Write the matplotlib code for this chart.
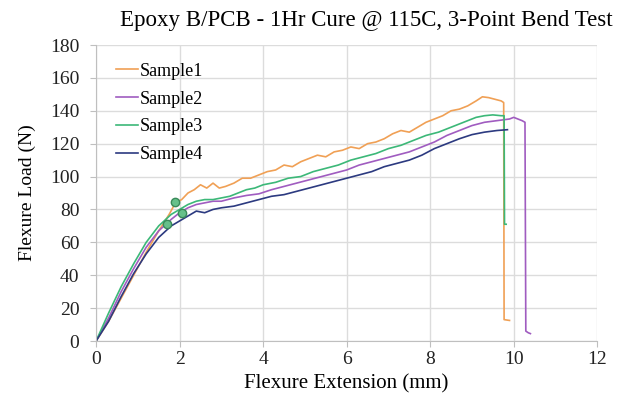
import matplotlib.pyplot as plt

plt.rcParams['font.family'] = ['Liberation Serif', 'DejaVu Serif']

# Sample1
x1 = [0, 0.3, 0.6, 0.9, 1.2, 1.5, 1.75, 1.9, 2.05, 2.2, 2.35, 2.5, 2.65, 2.8, 2.95, 3.1, 3.3, 3.5,
      3.7, 3.9, 4.1, 4.3, 4.5, 4.7, 4.9, 5.1, 5.3, 5.5, 5.7, 5.9, 6.1, 6.3, 6.5, 6.7, 6.9, 7.1,
      7.3, 7.5, 7.7, 7.9, 8.1, 8.3, 8.5, 8.7, 8.9, 9.1, 9.25, 9.4, 9.55, 9.7, 9.76, 9.77, 9.9]
y1 = [0, 12, 26, 40, 54, 67, 77, 84, 86, 90, 92, 95, 93, 96, 93, 94, 96, 99,
      99, 101, 103, 104, 107, 106, 109, 111, 113, 112, 115, 116, 118, 117, 120, 121, 123, 126,
      128, 127, 130, 133, 135, 137, 140, 141, 143, 146, 148.5, 148, 147, 146, 145, 13, 12.5]

# Sample2
x2 = [0, 0.3, 0.6, 0.9, 1.2, 1.5, 1.8, 2.0, 2.2, 2.4, 2.6, 2.8, 3.0, 3.3, 3.6, 3.9, 4.2, 4.5,
      4.8, 5.1, 5.4, 5.7, 6.0, 6.3, 6.6, 6.9, 7.2, 7.5, 7.8, 8.1, 8.4, 8.7, 9.0, 9.3, 9.6, 9.9,
      10.0, 10.1, 10.2, 10.27, 10.29, 10.35, 10.4]
y2 = [0, 14, 30, 44, 57, 67, 74, 78, 81, 83, 84, 85, 85, 87, 88.5, 89.5, 92, 94,
      96, 98, 100, 102, 104, 107, 109, 111, 113, 115, 118, 121, 125, 128, 131, 133, 134, 135,
      136, 135, 134, 133, 6, 5, 4.5]

# Sample3
x3 = [0, 0.3, 0.6, 0.9, 1.2, 1.5, 1.8, 2.0, 2.2, 2.4, 2.6, 2.8, 3.0, 3.2, 3.4, 3.6, 3.8, 4.0,
      4.3, 4.6, 4.9, 5.2, 5.5, 5.8, 6.1, 6.4, 6.7, 7.0, 7.3, 7.6, 7.9, 8.2, 8.5, 8.8, 9.1, 9.3,
      9.5, 9.7, 9.77, 9.78, 9.82]
y3 = [0, 17, 33, 47, 60, 70, 77, 80, 83, 85, 86, 86, 87, 88, 90, 92, 93, 95,
      96.5, 99, 100, 103, 105, 107, 110, 112, 114, 117, 119, 122, 125, 127, 130, 133, 136, 137,
      137.5, 137, 137, 71, 71]

# Sample4
x4 = [0, 0.3, 0.6, 0.9, 1.2, 1.5, 1.8, 2.0, 2.2, 2.4, 2.6, 2.8, 3.0, 3.3, 3.6, 3.9, 4.2, 4.5,
      4.8, 5.1, 5.4, 5.7, 6.0, 6.3, 6.6, 6.9, 7.2, 7.5, 7.8, 8.1, 8.4, 8.7, 9.0, 9.3, 9.6, 9.85]
y4 = [0, 12, 27, 41, 53, 63, 70, 73, 76, 79, 78, 80, 81, 82, 84, 86, 88, 89,
      91, 93, 95, 97, 99, 101, 103, 106, 108, 110, 113, 117, 120, 123, 125.5, 127, 128, 128.5]

# yield markers
mx = [1.9, 2.06, 1.69]
my = [84.5, 78, 71]

fig, ax = plt.subplots(figsize=(6.28, 4), dpi=100)
fig.subplots_adjust(left=0.153, right=0.951, bottom=0.1475, top=0.8875)

ax.plot(x1, y1, color='#f0a055', lw=1.2, label='Sample1')
ax.plot(x2, y2, color='#a05cc0', lw=1.2, label='Sample2')
ax.plot(x3, y3, color='#3cb878', lw=1.2, label='Sample3')
ax.plot(x4, y4, color='#2c3a80', lw=1.2, label='Sample4')
ax.plot(mx, my, 'o', ms=6, mfc='#66c08a', mec='#3a8a5a', mew=1, ls='none')

ax.set_xlim(0, 12)
ax.set_ylim(0, 180)
ax.set_xticks(range(0, 13, 2))
ax.set_yticks(range(0, 181, 20))
ax.grid(True, color='#dcdcdc', lw=1)
ax.set_axisbelow(True)
for s in ['top', 'right']:
    ax.spines[s].set_visible(False)
for s in ['left', 'bottom']:
    ax.spines[s].set_color('#bfbfbf')
ax.tick_params(colors='#bfbfbf', labelcolor='#222222', labelsize=14, length=4)
ax.tick_params(axis='y', pad=8)

ax.set_title('Epoxy B/PCB - 1Hr Cure @ 115C, 3-Point Bend Test', fontsize=16.5, x=0.54, pad=14)
ax.set_xlabel('Flexure Extension (mm)', fontsize=15, labelpad=4)
ax.set_ylabel('Flexure Load (N)', fontsize=14, labelpad=10)

leg = ax.legend(loc='upper left', frameon=False, fontsize=13, handlelength=1.2,
                handletextpad=0.1, labelspacing=0.6, bbox_to_anchor=(0.008, 0.995))

fig.savefig('out.png')
